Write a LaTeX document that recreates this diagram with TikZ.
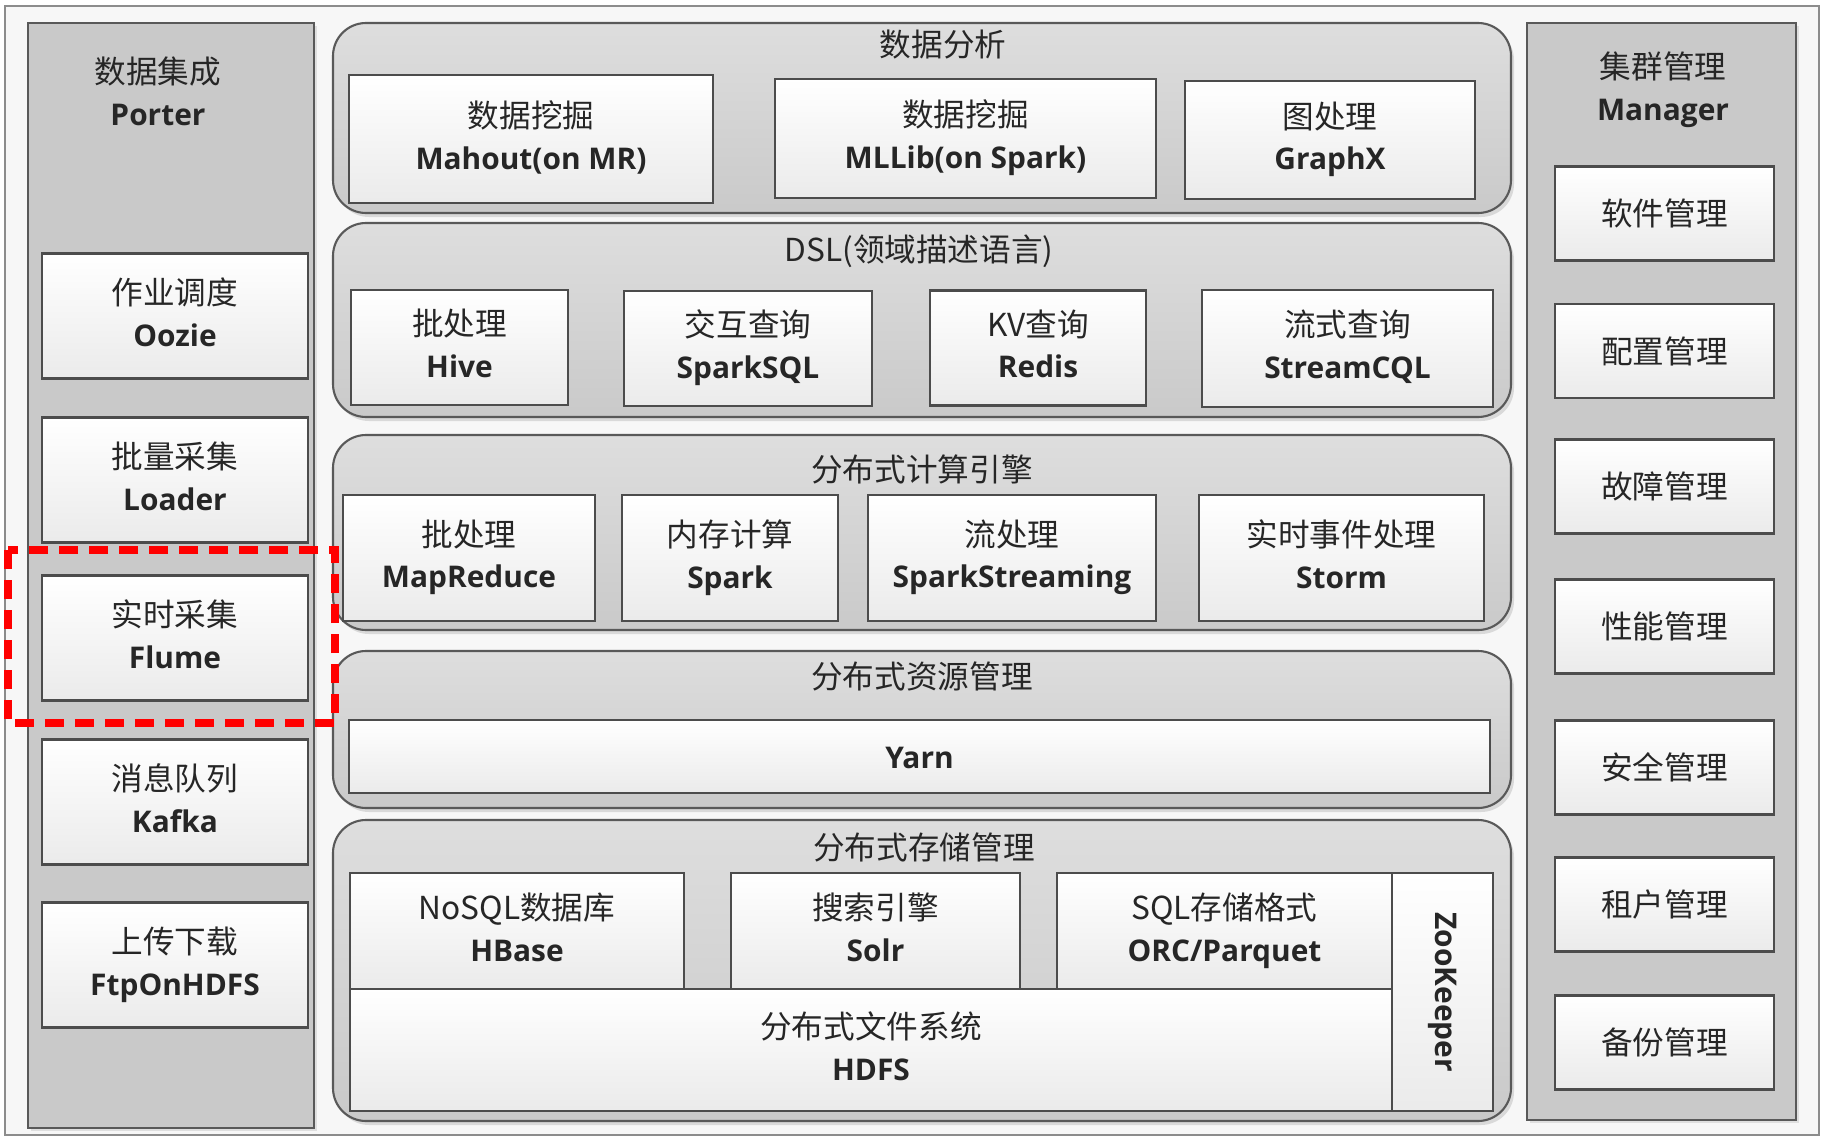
\documentclass[tikz,border=0pt]{standalone}
\usepackage{fontspec}
\setmainfont{Open Sans}
\newfontfamily\cjk{Noto Sans CJK SC}
\usepackage{tikz}
\usetikzlibrary{shadows}
\newcommand{\en}[1]{{\fontsize{8.5}{11.9}\selectfont\bfseries #1}}
\newcommand{\boxstrut}{\rule[-2.4pt]{0pt}{11.9pt}}
\tikzset{
   column/.style={draw=black!65, line width=0.6pt, fill=black!21,
                  drop shadow={shadow xshift=0.3mm, shadow yshift=-0.3mm, opacity=0.2}},
   layer/.style={draw=black!65, line width=0.6pt, rounded corners=3.3mm,
                 top color=black!13, bottom color=black!21,
                 drop shadow={shadow xshift=0.3mm, shadow yshift=-0.4mm, opacity=0.25}},
   ttl/.style={align=center, inner sep=0pt, text=black!85, font=\fontsize{9}{11.9}\selectfont}
}
\tikzstyle{comp} = [draw=black!70, line width=0.6pt, top color=white, bottom color=black!8, align=center, inner sep=0pt, text=black!85, font=\fontsize{9}{11.9}\selectfont, execute at begin node=\boxstrut, execute at end node=\boxstrut]
\tikzstyle{mgr} = [comp, minimum width=21.9mm, minimum height=9.4mm]
\tikzstyle{src} = [comp, minimum width=26.6mm, minimum height=12.5mm]

\begin{document}
\begin{tikzpicture}[x=0.1mm,y=-0.1mm]
  \useasboundingbox (0,0) rectangle (1825,1139);
  \draw[black!45, fill=black!3] (5,6) rectangle (1819,1135);

  % data integration column
  \node[column, minimum width=28.6mm, minimum height=110.5mm] (integ) at (171,575.5) {};
  \node[ttl] (integ-t) at (158,91) {{\cjk 数据集成}\\\en{Porter}};
  \node[src] (oozie)  at (175,316) {{\cjk 作业调度}\\\en{Oozie}};
  \node[src] (loader) at (175,480) {{\cjk 批量采集}\\\en{Loader}};
  \node[src] (flume)  at (175,638) {{\cjk 实时采集}\\\en{Flume}};
  \node[src] (kafka)  at (175,802) {{\cjk 消息队列}\\\en{Kafka}};
  \node[src] (ftp)    at (175,965) {{\cjk 上传下载}\\\en{FtpOnHDFS}};

  % cluster manager column
  \node[column, minimum width=26.9mm, minimum height=109.7mm] (manager) at (1661.5,571.5) {};
  \node[ttl] (manager-t) at (1663,90) {{\cjk 集群管理}\\\en{Manager}};
  \node[mgr] (soft)   at (1664.5,213.5)  {\cjk 软件管理};
  \node[mgr] (conf)   at (1664.5,351)    {\cjk 配置管理};
  \node[mgr] (fault)  at (1664.5,486.5)  {\cjk 故障管理};
  \node[mgr] (perf)   at (1664.5,626.5)  {\cjk 性能管理};
  \node[mgr] (secu)   at (1664.5,767.5)  {\cjk 安全管理};
  \node[mgr] (tenant) at (1664.5,904.5)  {\cjk 租户管理};
  \node[mgr] (backup) at (1664.5,1042.5) {\cjk 备份管理};

  % data analysis
  \node[layer, minimum width=117.8mm, minimum height=19mm] (analysis) at (922,118) {};
  \node[ttl] (analysis-t) at (943,45) {\cjk 数据分析};
  \node[comp, minimum width=36.4mm, minimum height=12.8mm] (mahout) at (531,139) {{\cjk 数据挖掘}\\\en{Mahout(on MR)}};
  \node[comp, minimum width=38.1mm, minimum height=11.9mm] (mllib) at (965.5,138.5) {{\cjk 数据挖掘}\\\en{MLLib(on Spark)}};
  \node[comp, minimum width=29mm, minimum height=11.8mm] (graphx) at (1330,140) {{\cjk 图处理}\\\en{GraphX}};

  % DSL
  \node[layer, minimum width=117.8mm, minimum height=19.4mm] (dsl) at (922,320) {};
  \node[ttl] (dsl-t) at (919,251) {\cjk DSL(领域描述语言)};
  \node[comp, minimum width=21.7mm, minimum height=11.5mm] (hive) at (459.5,347.5) {{\cjk 批处理}\\\en{Hive}};
  \node[comp, minimum width=24.8mm, minimum height=11.5mm] (sparksql) at (748,348.5) {{\cjk 交互查询}\\\en{SparkSQL}};
  \node[comp, minimum width=21.6mm, minimum height=11.5mm] (redis) at (1038,348) {{\cjk KV查询}\\\en{Redis}};
  \node[comp, minimum width=29.1mm, minimum height=11.7mm] (streamcql) at (1347.5,348.5) {{\cjk 流式查询}\\\en{StreamCQL}};

  % compute engines
  \node[layer, minimum width=117.8mm, minimum height=19.5mm] (compute) at (922,532.5) {};
  \node[ttl] (compute-t) at (922,469) {\cjk 分布式计算引擎};
  \node[comp, minimum width=25.2mm, minimum height=12.6mm] (mapreduce) at (469,558) {{\cjk 批处理}\\\en{MapReduce}};
  \node[comp, minimum width=21.6mm, minimum height=12.6mm] (spark) at (730,558) {{\cjk 内存计算}\\\en{Spark}};
  \node[comp, minimum width=28.8mm, minimum height=12.6mm] (streaming) at (1012,558) {{\cjk 流处理}\\\en{SparkStreaming}};
  \node[comp, minimum width=28.5mm, minimum height=12.6mm] (storm) at (1341.5,558) {{\cjk 实时事件处理}\\\en{Storm}};

  % resource management
  \node[layer, minimum width=117.8mm, minimum height=15.7mm] (resource) at (922,729.5) {};
  \node[ttl] (resource-t) at (922,676) {\cjk 分布式资源管理};
  \node[comp, minimum width=114.1mm, minimum height=7.3mm] (yarn) at (919.5,756.5) {\en{Yarn}};

  % storage management
  \node[layer, minimum width=117.8mm, minimum height=30.1mm] (storage) at (922,970.5) {};
  \node[ttl] (storage-t) at (924,847) {\cjk 分布式存储管理};
  \node[comp, minimum width=104.2mm, minimum height=12.2mm] (hdfs) at (871,1050) {{\cjk 分布式文件系统}\\\en{HDFS}};
  \node[comp, minimum width=33.4mm, minimum height=11.6mm] (hbase) at (517,931) {{\cjk NoSQL数据库}\\\en{HBase}};
  \node[comp, minimum width=28.9mm, minimum height=11.6mm] (solr) at (875.5,931) {{\cjk 搜索引擎}\\\en{Solr}};
  \node[comp, minimum width=33.5mm, minimum height=11.6mm] (orc) at (1224.5,931) {{\cjk SQL存储格式}\\\en{ORC/Parquet}};
  \node[comp, minimum width=10.1mm, minimum height=23.8mm] (zoo) at (1442.5,992) {};
  \node[ttl, rotate=-90] (zoo-t) at (zoo.center) {\en{ZooKeeper}};

  % highlight
  \draw[red, line width=2.3pt, dash pattern=on 1.9mm off 1.1mm] (8,550) rectangle (335,723);
\end{tikzpicture}
\end{document}
